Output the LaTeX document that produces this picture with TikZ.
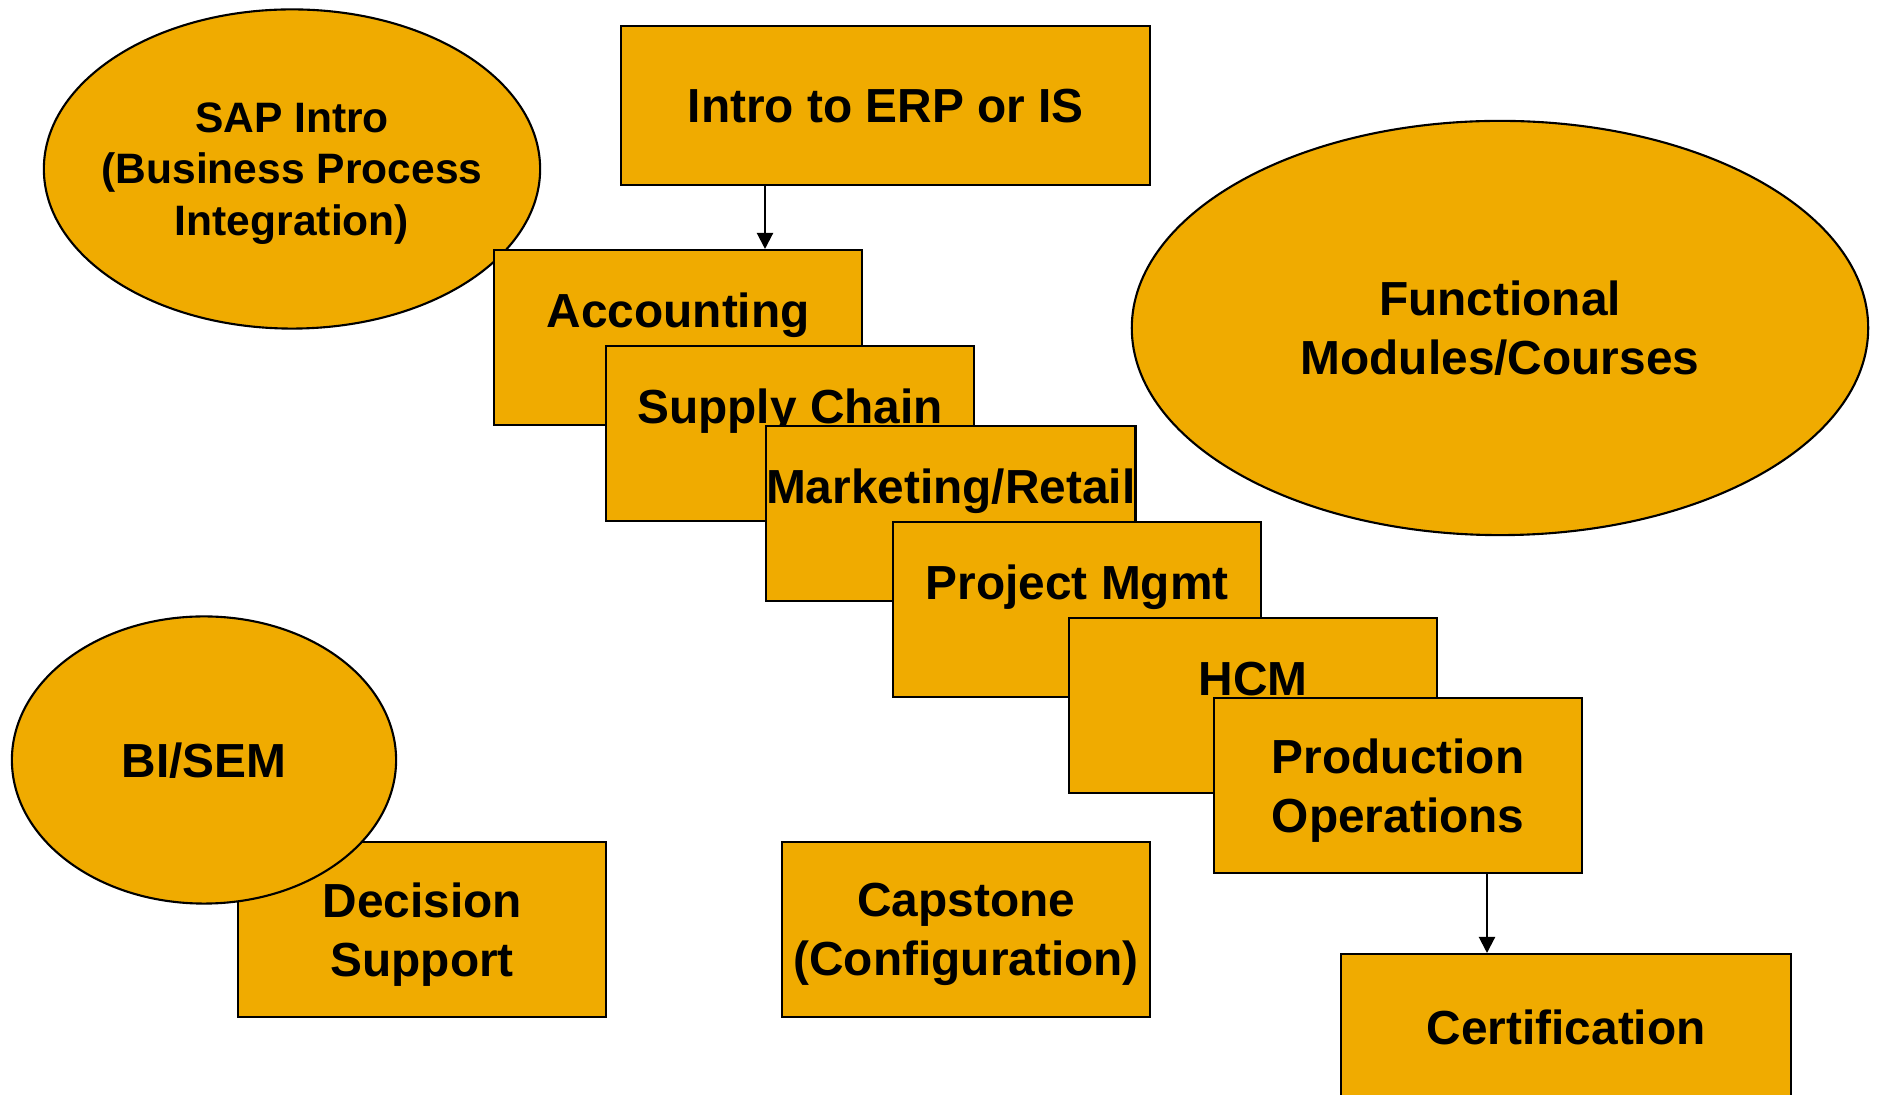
\documentclass[tikz,border=0pt]{standalone}
\usepackage{fontspec}
\setmainfont{Liberation Sans}
\usepackage{tikz}
\usetikzlibrary{shapes.geometric,arrows.meta}
\definecolor{sapgold}{RGB}{240,171,0}

\begin{document}
\begin{tikzpicture}[x=0.01cm,y=-0.01cm,
                    gold/.style={draw,line width=0.6pt,fill=sapgold,inner sep=0pt,font=\bfseries\fontsize{13.6}{16.7}\selectfont},
                    box/.style={gold,anchor=north west,align=center,text depth=0pt,minimum width=3.68cm,minimum height=1.75cm},
                    stair/.style={gold,anchor=north west,minimum width=3.68cm,text height=0.77cm,text depth=0.98cm},
                    oval/.style={gold,ellipse,align=center,text depth=0pt},
                    arr/.style={line width=0.6pt,-{Triangle[length=0.16cm,width=0.16cm]}}]
                    \useasboundingbox (0,0) rectangle (1878,1095);
                    \node[oval,minimum width=4.96cm,minimum height=3.19cm,inner xsep=-3mm,
                      font=\bfseries\fontsize{12.1}{14.6}\selectfont](sap) at (292,169){SAP Intro\\(Business Process\\Integration)};
                    \node[box,minimum width=5.29cm,minimum height=1.59cm](intro) at (620,25){Intro to ERP or IS};
                    \node[stair](acc) at (493,249){Accounting};
                    \node[stair](supply) at (605,345){Supply Chain};
                    \node[stair](retail) at (765,425){Marketing/Retail};
                    \node[stair](pm) at (892,521){Project Mgmt};
                    \node[stair](hcm) at (1068,617){HCM};
                    \node[box](prod) at (1213,697){Production\\Operations};
                    \node[oval,minimum width=7.36cm,minimum height=4.14cm](func) at (1500,328){Functional\\Modules/Courses};
                    \node[box](dss) at (237,841){Decision\\Support};
                    \node[oval,minimum width=3.84cm,minimum height=2.87cm](bi) at (204,760){BI/SEM};
                    \node[box](cap) at (781,841){Capstone\\(Configuration)};
                    \node[box,minimum width=4.50cm,minimum height=1.47cm](cert) at (1340,953){Certification};
                    \coordinate (a1) at (765,0);
                    \coordinate (a2) at (1487,0);
                    \draw[arr] (intro.south -| a1) -- (acc.north -| a1);
                    \draw[arr] (prod.south -| a2) -- (cert.north -| a2);
                \end{tikzpicture}
\end{document}
